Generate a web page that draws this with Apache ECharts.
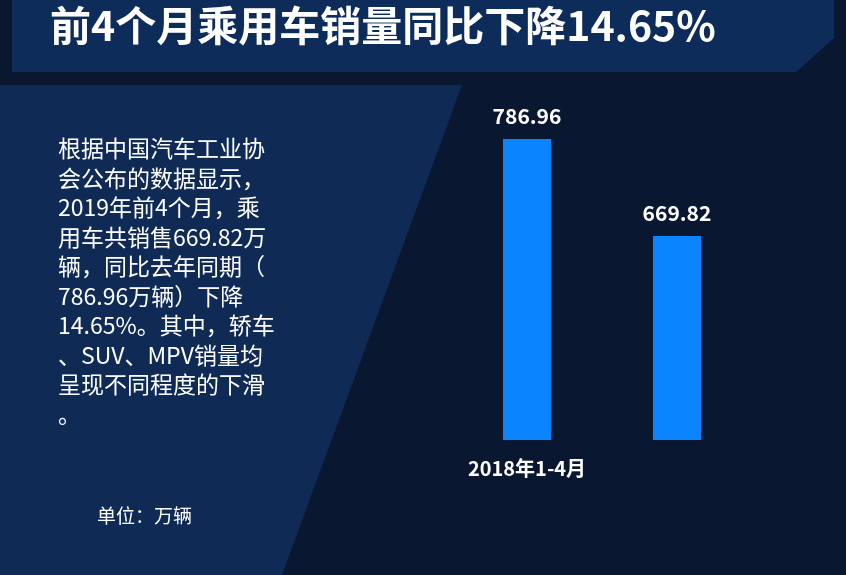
<!DOCTYPE html>
<html>
<head>
<meta charset="utf-8">
<script src="https://cdn.jsdelivr.net/npm/echarts@6/dist/echarts.min.js"></script>
<style>html,body{margin:0;padding:0;background:#0a1730;}#main{width:846px;height:575px;}</style>
</head>
<body>
<div id="main"></div>
<script>
const categories = ['2018年1-4月', '2019年1-4月'];
const sales = [786.96, 669.82];
const descLines = [
    '根据中国汽车工业协',
    '会公布的数据显示，',
    '2019年前4个月，乘',
    '用车共销售669.82万',
    '辆，同比去年同期（',
    '786.96万辆）下降',
    '14.65%。其中，轿车',
    '、SUV、MPV销量均',
    '呈现不同程度的下滑',
    '。'
];

const chart = echarts.init(document.getElementById('main'));
const font = '"Noto Sans CJK SC", sans-serif';

const option = {
    backgroundColor: '#0a1730',
    graphic: [
        { type: 'polygon', z: -1, shape: { points: [[0, 85], [462, 85], [282, 575], [0, 575]] }, style: { fill: '#0f2a55' } },
        { type: 'polygon', z: -1, shape: { points: [[12, 0], [834, 0], [834, 38], [796, 72], [12, 72]] }, style: { fill: '#0e2c5a' } },
        { type: 'text', left: 50, top: 5, style: { text: '前4个月乘用车销量同比下降14.65%', fill: '#fff', font: 'bold 41px ' + font } },
        { type: 'text', left: 58, top: 134, style: { text: descLines.join('\n'), fill: '#fff', font: '23px ' + font, lineHeight: 29.5 } },
        { type: 'text', left: 97, top: 506, style: { text: '单位：万辆', fill: '#fff', font: '19px ' + font } }
    ],
    grid: { left: 452, right: 94, top: 139, bottom: 135 },
    xAxis: {
        type: 'category',
        data: categories,
        axisLine: { show: false },
        axisTick: { show: false },
        axisLabel: { color: '#fff', fontSize: 20, fontWeight: 'bold', fontFamily: font, margin: 18 }
    },
    yAxis: { type: 'value', min: 423.5, max: 786.96, show: false, splitLine: { show: false } },
    series: [{
        type: 'bar',
        data: sales,
        barWidth: 48,
        itemStyle: { color: '#0a84ff' },
        label: { show: true, position: 'top', distance: 12, color: '#fff', fontSize: 21, fontWeight: 'bold', fontFamily: font, formatter: p => p.value.toFixed(2) }
    }]
};

chart.setOption(option);
</script>
</body>
</html>
